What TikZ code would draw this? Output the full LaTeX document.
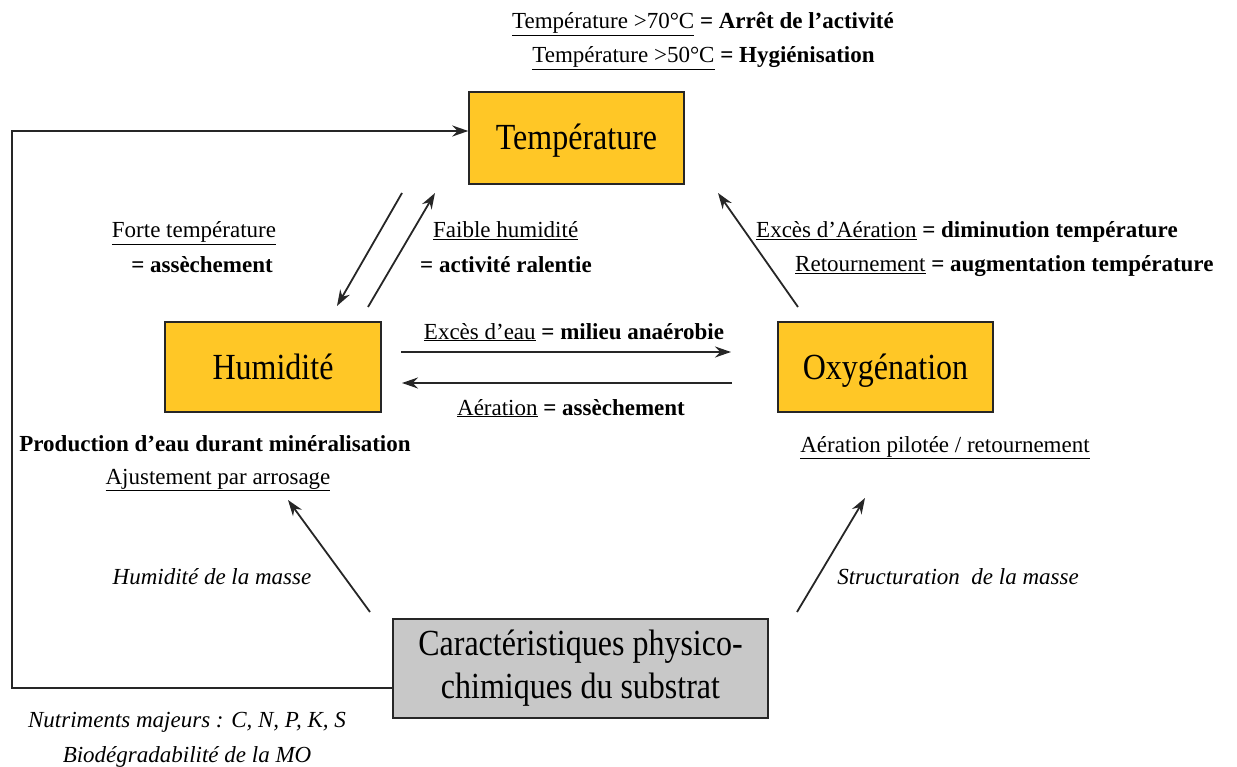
\documentclass[tikz,border=0pt]{standalone}
\usepackage{fontspec}
\usepackage{graphicx}
\setmainfont{Liberation Serif}
\usetikzlibrary{arrows.meta}
\definecolor{gold}{RGB}{255,199,38}
\definecolor{greybox}{RGB}{200,200,200}
\newcommand{\boxtxt}[1]{\scalebox{1}[1.15]{\begin{tabular}{@{}c@{}}#1\end{tabular}}}
\newcommand{\boxone}[1]{\scalebox{1}[1.15]{#1}}
\tikzset{
  box/.style={draw=black!85, line width=1.4pt, fill=gold, inner sep=0pt, align=center,
    font=\fontsize{32}{37}\selectfont},
  onel/.style={text height=24pt, text depth=0pt},
  lbl/.style={inner sep=0pt, font=\fontsize{23}{28}\selectfont},
  arr/.style={line width=1.8pt, draw=black!85, -{Stealth[length=16pt,width=11pt]}}
}
\begin{document}
\begin{tikzpicture}[x=1pt,y=-1pt]
\useasboundingbox (0,0) rectangle (1237,767);
% boxes
\node[box, onel, minimum width=215pt, minimum height=92pt] (T) at (576.5,138) {\boxone{Température}};
\node[box, onel, minimum width=216pt, minimum height=90pt] (H) at (273,367) {\boxone{Humidité}};
\node[box, onel, minimum width=215pt, minimum height=90pt] (O) at (885.5,367) {\boxone{Oxygénation}};
\node[box, fill=greybox, minimum width=375pt, minimum height=99pt] (C) at (580.5,668.5)
  {\raisebox{-2pt}{\boxtxt{Caractéristiques physico-\\chimiques du substrat}}};
% arrow end points
\coordinate (th1) at (402,193); \coordinate (th2) at (337,306);
\coordinate (ht1) at (368,307); \coordinate (ht2) at (435,193);
\coordinate (ot1) at (798,307); \coordinate (ot2) at (718,193);
\coordinate (ho1) at (401,352); \coordinate (ho2) at (731,352);
\coordinate (oh1) at (732,383); \coordinate (oh2) at (402,383);
\coordinate (ch1) at (370,612); \coordinate (ch2) at (288,500);
\coordinate (co1) at (797,612); \coordinate (co2) at (865,498);
\coordinate (fbB) at (12,688); \coordinate (fbT) at (12,131);
% arrows
\draw[arr] (th1) -- (th2);
\draw[arr] (ht1) -- (ht2);
\draw[arr] (ot1) -- (ot2);
\draw[arr] (ho1) -- (ho2);
\draw[arr] (oh1) -- (oh2);
\draw[arr] (ch1) -- (ch2);
\draw[arr] (co1) -- (co2);
\draw[arr] (C.west |- fbB) -- (fbB) -- (fbT) -- (T.west |- fbT);
% labels
\node[lbl, anchor=base] (l1) at (703,29) {\underline{Température >70°C} \textbf{= Arrêt de l'activité}};
\node[lbl, anchor=base] (l2) at (703.5,63) {\underline{Température >50°C} \textbf{= Hygiénisation}};
\node[lbl, anchor=base] (l3) at (194,238) {\underline{Forte température}};
\node[lbl, anchor=base] (l4) at (202,273) {\textbf{= assèchement}};
\node[lbl, anchor=base west] (l5) at (433,238) {\underline{Faible humidité}};
\node[lbl, anchor=base west] (l6) at (420,273) {\textbf{= activité ralentie}};
\node[lbl, anchor=base west] (l7) at (756,238) {\underline{Excès d'Aération} \textbf{= diminution température}};
\node[lbl, anchor=base west] (l8) at (795,272) {\underline{Retournement} \textbf{= augmentation température}};
\node[lbl, anchor=base] (l9) at (574,339) {\underline{Excès d'eau} \textbf{= milieu anaérobie}};
\node[lbl, anchor=base] (l10) at (571,415) {\underline{Aération} \textbf{= assèchement}};
\node[lbl, anchor=base] (l11) at (215,451) {\textbf{Production d'eau durant minéralisation}};
\node[lbl, anchor=base] (l12) at (218,484) {\underline{Ajustement par arrosage}};
\node[lbl, anchor=base] (l13) at (945,452) {\underline{Aération pilotée / retournement}};
\node[lbl, anchor=base] (l14) at (212,584) {\textit{Humidité de la masse}};
\node[lbl, anchor=base] (l15) at (958,584) {\textit{Structuration\ \ de la masse}};
\node[lbl, anchor=base] (l16) at (187,727) {\textit{Nutriments majeurs : C, N, P, K, S}};
\node[lbl, anchor=base] (l17) at (187,762) {\textit{Biodégradabilité de la MO}};
\end{tikzpicture}
\end{document}
